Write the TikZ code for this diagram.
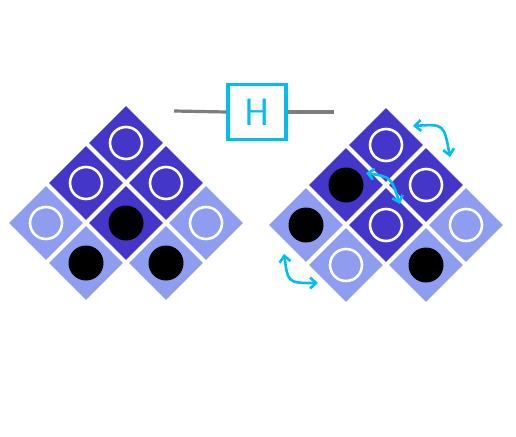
\documentclass[tikz,border=0pt]{standalone}
\usetikzlibrary{arrows.meta}
\definecolor{dk}{RGB}{68,54,200}
\definecolor{lt}{RGB}{143,157,240}
\definecolor{cy}{RGB}{0,190,240}
\definecolor{gr}{RGB}{125,125,125}
\begin{document}
\begin{tikzpicture}[x=1pt,y=-1pt,
  tile/.style={rectangle, rotate=45, minimum size=52pt, inner sep=0pt, draw=none},
  opn/.style={circle, draw=white, line width=2.6pt, minimum size=32pt, inner sep=0pt},
  blk/.style={circle, fill=black, minimum size=35pt, inner sep=0pt},
  swap/.style={draw=cy, line width=2.6pt, line cap=round, {Straight Barb[length=6pt,width=11pt]}-{Straight Barb[length=6pt,width=11pt]}},
  wire/.style={draw=gr, line width=3.2pt},
  gate/.style={draw=cy, line width=3.2pt, minimum width=58pt, minimum height=55pt, inner sep=0pt, text=cy, font=\fontsize{38}{38}\selectfont\sffamily}
]
\useasboundingbox[fill=white] (0,0) rectangle (516,436);
% left cluster
\foreach \u/\v/\c/\k in {0/0/dk/opn,1/0/dk/opn,0/1/dk/opn,1/1/dk/blk,2/0/lt/opn,0/2/lt/opn,1/2/lt/blk,2/1/lt/blk}{
  \node[tile,fill=\c] (L\u\v) at ({126+40*\u-40*\v},{143+40*\u+40*\v}) {};
  \node[\k] (Lc\u\v) at (L\u\v) {};
}
% right cluster
\foreach \u/\v/\c/\k in {0/0/dk/opn,1/0/dk/opn,0/1/dk/blk,1/1/dk/opn,2/0/lt/opn,0/2/lt/blk,1/2/lt/opn,2/1/lt/blk}{
  \node[tile,fill=\c] (R\u\v) at ({386+40*\u-40*\v},{145+40*\u+40*\v}) {};
  \node[\k] (Rc\u\v) at (R\u\v) {};
}
% gate
\node[gate] (H) at (257,112) {H};
\coordinate (wl) at (174,111);
\coordinate (wr) at (334,112);
\draw[wire] (wl) -- (H.west);
\draw[wire] (H.east) -- (wr);
% swap arrows
\coordinate (a1s) at (413,126);
\coordinate (a1e) at (450,157);
\coordinate (a2s) at (366,173);
\coordinate (a2e) at (400,204);
\coordinate (a3s) at (284,254);
\coordinate (a3e) at (318,283);
\draw[swap] (a1s) .. controls (444,124) .. (a1e);
\draw[swap] (a2s) .. controls (391,177) .. (a2e);
\draw[swap] (a3s) .. controls (288,283) .. (a3e);
\end{tikzpicture}
\end{document}
